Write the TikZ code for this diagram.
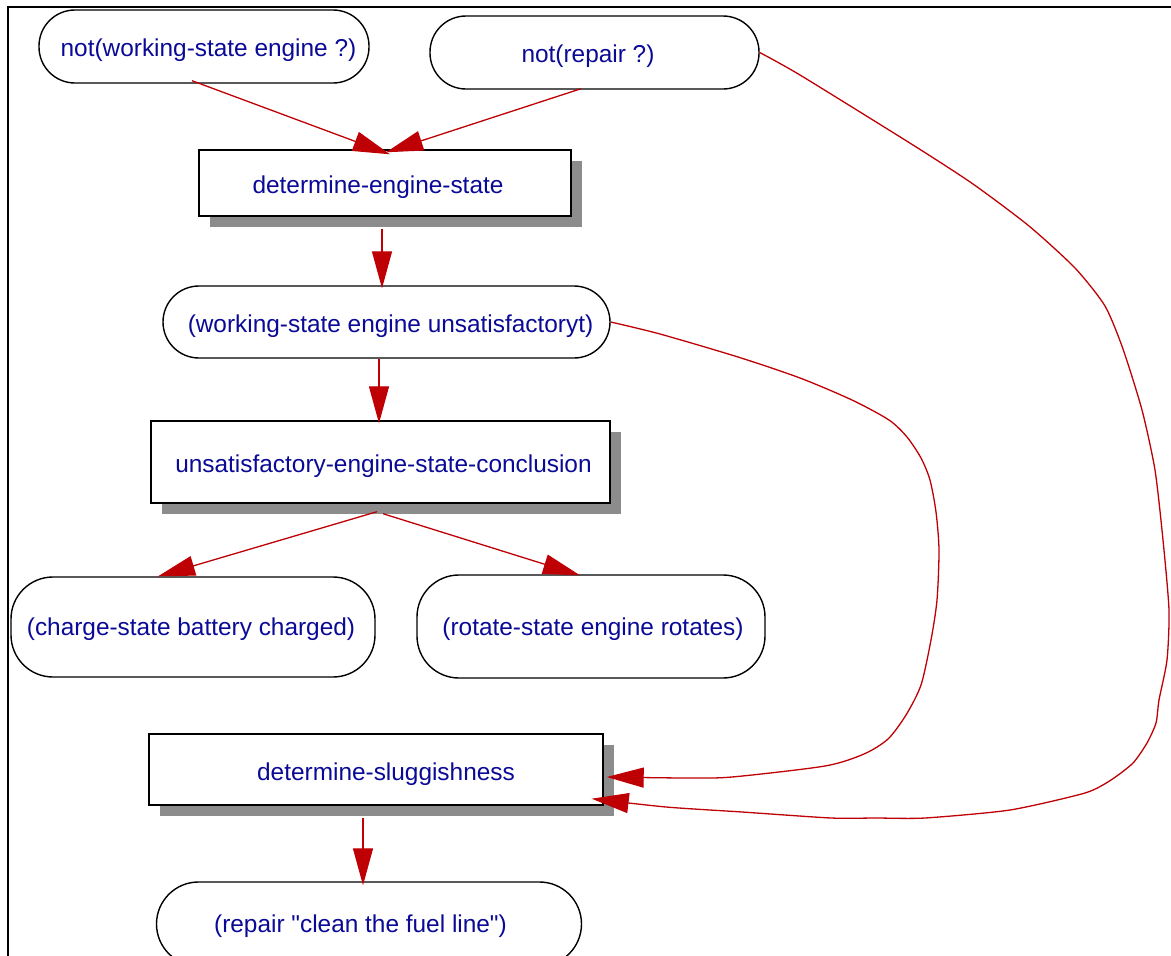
\documentclass[tikz,border=0pt]{standalone}
\usepackage{fontspec}
\setmainfont{Liberation Sans}[Ligatures=TeXOff]
\usetikzlibrary{arrows.meta,shadows,calc}
\definecolor{txtblue}{RGB}{10,10,150}
\definecolor{edgered}{RGB}{190,0,5}
\definecolor{shadowgray}{RGB}{140,140,140}
\begin{document}
\begin{tikzpicture}[x=1pt,y=-1pt,
  every node/.style={font=\fontsize{24.4}{29}\selectfont, text=txtblue, inner sep=0pt,
    text height=22pt, text depth=2pt},
  tx/.style={execute at begin node={\hspace*{#1}}},
  pill/.style={draw=black, line width=1.4pt, fill=white, rectangle, rounded corners=36pt},
  tallpill/.style={pill, rounded corners=42pt},
  stepbox/.style={draw=black, line width=1.4pt, fill=white, rectangle,
    drop shadow={shadow xshift=11pt, shadow yshift=-11pt, opacity=1, fill=shadowgray, draw=none}},
  edge/.style={draw=edgered, line width=1.3pt, -{Triangle[length=37pt,width=20pt]}}]
\useasboundingbox (0,0) rectangle (1171,956);
\draw[line width=1.8pt] (8,1000) -- (8,7) -- (1200,7);
% nodes
\node[pill, tx=9pt, minimum width=330pt, minimum height=73pt] (n1) at (204,46.5) {not(working-state engine ?)};
\node[pill, tx=-13pt, minimum width=329pt, minimum height=73pt] (n2) at (594.5,52.5) {not(repair ?)};
\node[stepbox, tx=-14pt, minimum width=372pt, minimum height=66pt] (n3) at (385,183) {determine-engine-state};
\node[pill, tx=8pt, minimum width=447pt, minimum height=72pt] (n4) at (386.5,322) {(working-state engine unsatisfactoryt)};
\node[stepbox, tx=6pt, minimum width=459pt, minimum height=82pt] (n5) at (380.5,462) {unsatisfactory-engine-state-conclusion};
\node[tallpill, tx=-4pt, text height=19pt, minimum width=364pt, minimum height=100pt] (n6) at (193,627) {(charge-state battery charged)};
\node[tallpill, tx=4pt, text height=19pt, minimum width=348pt, minimum height=103pt] (n7) at (591,626.5) {(rotate-state engine rotates)};
\node[stepbox, tx=20pt, text height=23pt, minimum width=454pt, minimum height=71pt] (n8) at (376,769.5) {determine-sluggishness};
\node[tallpill, tx=-17pt, text height=19pt, minimum width=425pt, minimum height=84pt] (n9) at (369,924) {(repair "clean the fuel line")};
% tips
\coordinate (t8) at ($(n8.east)+(3,7.5)$);
\coordinate (t9) at ($(n8.south east)+(-12,-7)$);
% straight edges
\draw[edge] ($(n1.south)+(-12,-3)$) -- ($(n3.north)+(5,5)$);
\draw[edge] ($(n2.south)+(-13.5,-1)$) -- ($(n3.north)+(1,3)$);
\draw[edge] ($(n3.south)+(-3,12)$) -- ($(n4.north)+(-4.5,3)$);
\draw[edge] ($(n4.south)+(-7.5,0)$) -- ($(n5.north)+(-1.5,3)$);
\draw[edge] ($(n5.south)+(-3.5,8)$) -- ($(n6.north)+(-35,0)$);
\draw[edge] ($(n5.south)+(2.5,10)$) -- ($(n7.north)+(-11,1)$);
\draw[edge] ($(n8.south)+(-13,12)$) -- ($(n9.north)+(-6,4)$);
% curved edges
\draw[edge] plot[smooth, tension=0.45] coordinates {(n4.east) (660,334) (738,357) (800,378) (852,400) (889,420) (907,437) (921,458) (930,480) (936,512) (939,550) (937,600) (931,640) (921,685) (906,715) (888,739) (864,754) (825,766) (732,777) (686,778) (t8)};
\draw[edge] plot[smooth, tension=0.4] coordinates {(n2.east) (800,75) (913,145) (973,184) (1029,226) (1075,268) (1105,306) (1123,349) (1142,410) (1155,470) (1163,540) (1169,610) (1167,660) (1159,700) (1156,723) (1147,743) (1133,763) (1111,780) (1085,793) (1010,810) (925,818) (876,818) (831,818) (742,812) (666,807) (t9)};
\end{tikzpicture}
\end{document}
